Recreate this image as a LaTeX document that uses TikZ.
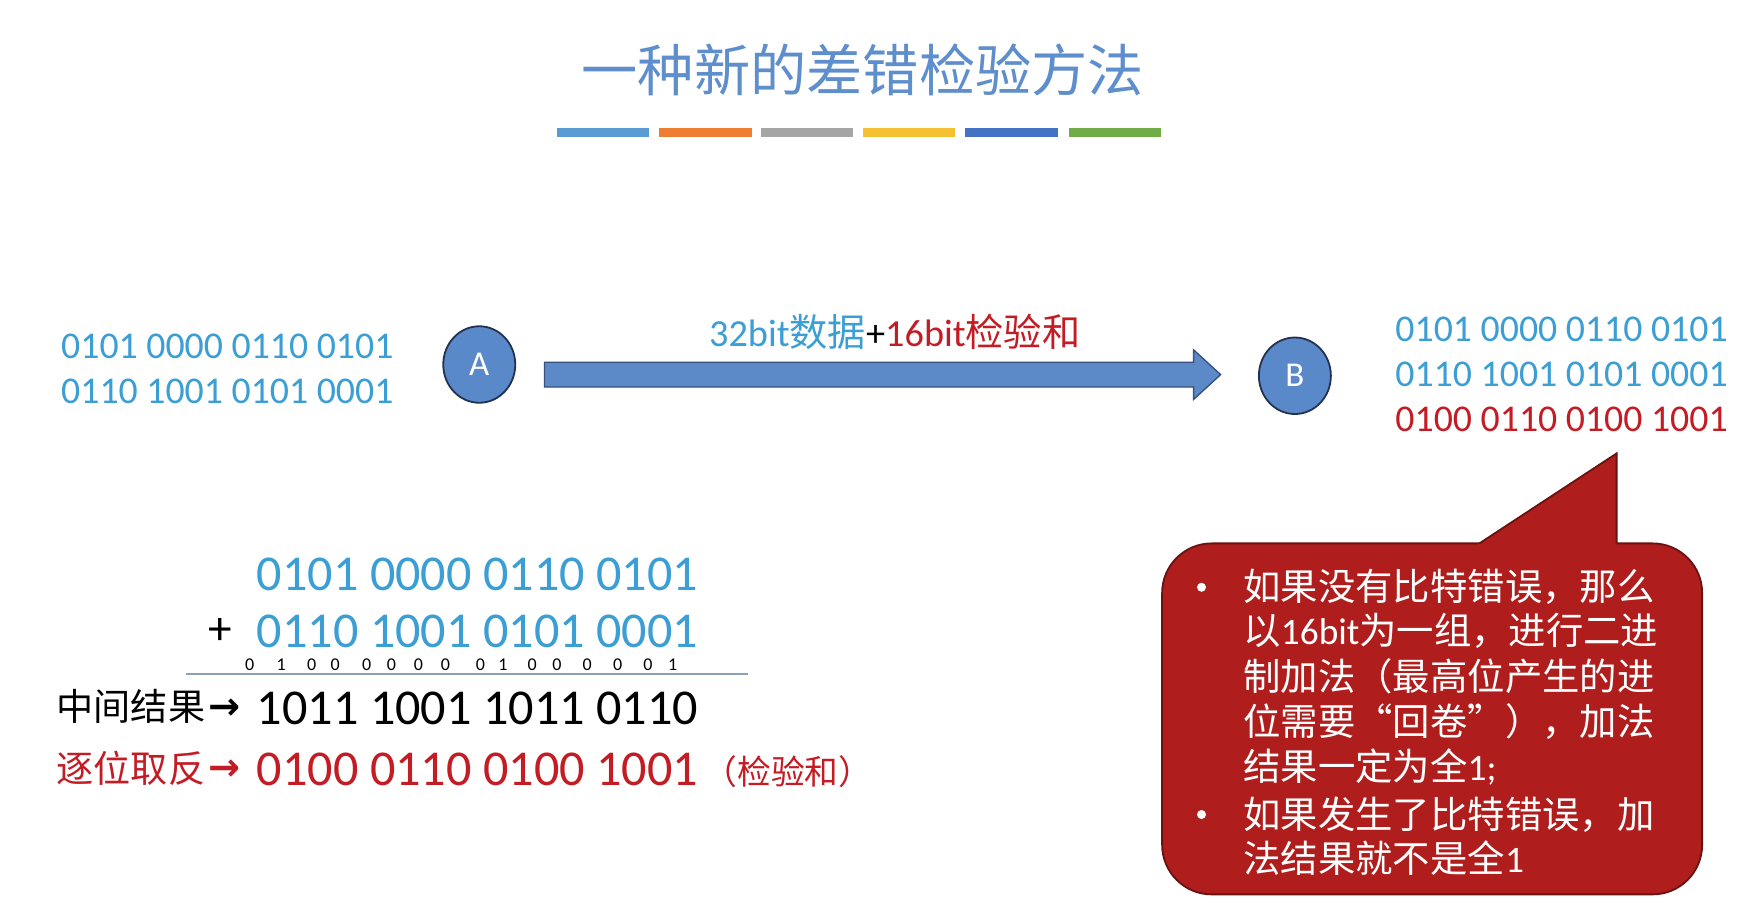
\documentclass[tikz,border=0pt]{standalone}
\usepackage{fontspec}
\setmainfont{Carlito}
\newfontfamily\cjk{Noto Sans CJK SC}
\newfontfamily\arrowfont{DejaVu Sans}
\usetikzlibrary{shapes.geometric}
\definecolor{titleblue}{RGB}{95,142,204}
\definecolor{bitblue}{RGB}{59,158,212}
\definecolor{bitred}{RGB}{196,28,36}
\definecolor{circfill}{RGB}{89,137,201}
\definecolor{circline}{RGB}{35,50,80}
\definecolor{arrowfill}{RGB}{92,138,200}
\definecolor{arrowline}{RGB}{55,80,125}
\definecolor{callfill}{RGB}{175,30,28}
\definecolor{calledge}{RGB}{105,18,18}
\definecolor{sumline}{RGB}{140,160,185}
\definecolor{barA}{RGB}{91,155,213}
\definecolor{barB}{RGB}{237,125,49}
\definecolor{barC}{RGB}{165,165,165}
\definecolor{barD}{RGB}{245,192,50}
\definecolor{barE}{RGB}{68,114,196}
\definecolor{barF}{RGB}{112,173,71}
\begin{document}
\begin{tikzpicture}[x=0.5pt,y=-0.5pt,
  bits/.style={anchor=west, inner sep=0pt, font=\fontsize{16.8}{20}\selectfont},
  bigbits/.style={anchor=west, inner sep=0pt, font=\fontsize{22.3}{26}\selectfont},
  carry/.style={inner sep=0pt, font=\fontsize{8}{9}\selectfont},
  calltext/.style={anchor=west, inner sep=0pt, text=white, font=\cjk\fontsize{16.6}{20}\selectfont},
  bullet/.style={circle, fill=white, inner sep=0pt, minimum size=4pt},
  station/.style={ellipse, fill=circfill, draw=circline, line width=0.8pt, minimum width=32pt, minimum height=34pt, inner sep=0pt, text=white, font=\fontsize{15.5}{18}\selectfont},
  bar/.style={line width=4pt}
]
\useasboundingbox (0,0) rectangle (1568,816);
\fill[white] (0,0) rectangle (1568,816);

% title
\node[font=\cjk\fontsize{25}{30}\selectfont, text=titleblue, inner sep=0pt] (title) at (767,62) {一种新的差错检验方法};
\foreach \x/\c in {495/barA,586/barB,676/barC,767/barD,858/barE,950/barF}
  \draw[bar, \c] (\x,118) -- ++(82,0);

% left data
\node[bits, text=bitblue] (l1) at (54,308) {0101 0000 0110 0101};
\node[bits, text=bitblue] (l2) at (54,348) {0110 1001 0101 0001};

% stations
\node[station] (A) at (426,324) {A};
\node[station] (B) at (1151,334) {B};

% block arrow
\filldraw[fill=arrowfill, draw=arrowline, line width=0.6pt]
  (484,322) -- (1061,322) -- (1061,311) -- (1085,333) -- (1061,355) -- (1061,344) -- (484,344) -- cycle;
\node[anchor=west, inner sep=0pt, font=\fontsize{17}{20}\selectfont] (lab) at (630,295)
  {\textcolor{bitblue}{32bit{\cjk 数据}}\textcolor{black}{+}\textcolor{bitred}{16bit{\cjk 检验和}}};

% right data
\node[bits, text=bitblue] (r1) at (1240,293) {0101 0000 0110 0101};
\node[bits, text=bitblue] (r2) at (1240,333) {0110 1001 0101 0001};
\node[bits, text=bitred] (r3) at (1240,373) {0100 0110 0100 1001};

% sum
\node[bigbits, text=bitblue] (s1) at (228,511) {0101 0000 0110 0101};
\node[bigbits, text=bitblue] (s2) at (228,561) {0110 1001 0101 0001};
\node[inner sep=0pt, font=\fontsize{21}{24}\selectfont] (plus) at (196,561) {+};
\foreach \x/\d [count=\i] in {222/0,250/1,277/0,298/0,326/0,348/0,372/0,396/0,427/0,447/1,473/0,495/0,522/0,549/0,576/0,598/1}
  \node[carry] (c\i) at (\x,591) {\d};
\draw[sumline, line width=0.6pt] (165,599) -- (665,599);

\node[anchor=west, inner sep=0pt, font=\cjk\fontsize{16.5}{20}\selectfont] (mid) at (50,628) {中间结果};
\node[anchor=west, inner sep=0pt, font=\arrowfont\bfseries\fontsize{17}{20}\selectfont] (midarr) at (185,630) {→};
\node[bigbits] (s3) at (228,630) {1011 1001 1011 0110};

\node[anchor=west, inner sep=0pt, text=bitred, font=\cjk\fontsize{16.5}{20}\selectfont] (inv) at (50,683) {逐位取反};
\node[anchor=west, inner sep=0pt, text=bitred, font=\arrowfont\bfseries\fontsize{17}{20}\selectfont] (invarr) at (185,685) {→};
\node[bigbits, text=bitred] (s4) at (228,684) {0100 0110 0100 1001};
\node[anchor=west, inner sep=0pt, text=bitred, font=\cjk\fontsize{15}{18}\selectfont] (ck) at (625,686) {（检验和）};

% callout
\node[draw=calledge, fill=callfill, line width=0.8pt, rounded corners=22pt, minimum width=240pt, minimum height=156pt, inner sep=0pt] (call) at (1273,639) {};
\fill[callfill] (1312,486) -- (1315,483) -- (1437,403) -- (1437,486) -- cycle;
\draw[calledge, line width=0.8pt] (1315,483) -- (1437,403) -- (1437,483);

\node[bullet] (b1) at (1068,522) {};
\node[bullet] (b2) at (1068,724) {};
\node[calltext] (t1) at (1105,522) {如果没有比特错误，那么};
\node[calltext] (t2) at (1105,561) {以{\fontspec{Carlito}16bit}为一组，进行二进};
\node[calltext] (t3) at (1105,601) {制加法（最高位产生的进};
\node[calltext] (t4) at (1105,641) {位需要“回卷”），加法};
\node[calltext] (t5) at (1105,682) {结果一定为全{\fontspec{Carlito}1;}};
\node[calltext] (t6) at (1105,724) {如果发生了比特错误，加};
\node[calltext] (t7) at (1105,763) {法结果就不是全{\fontspec{Carlito}1}};
\end{tikzpicture}
\end{document}
